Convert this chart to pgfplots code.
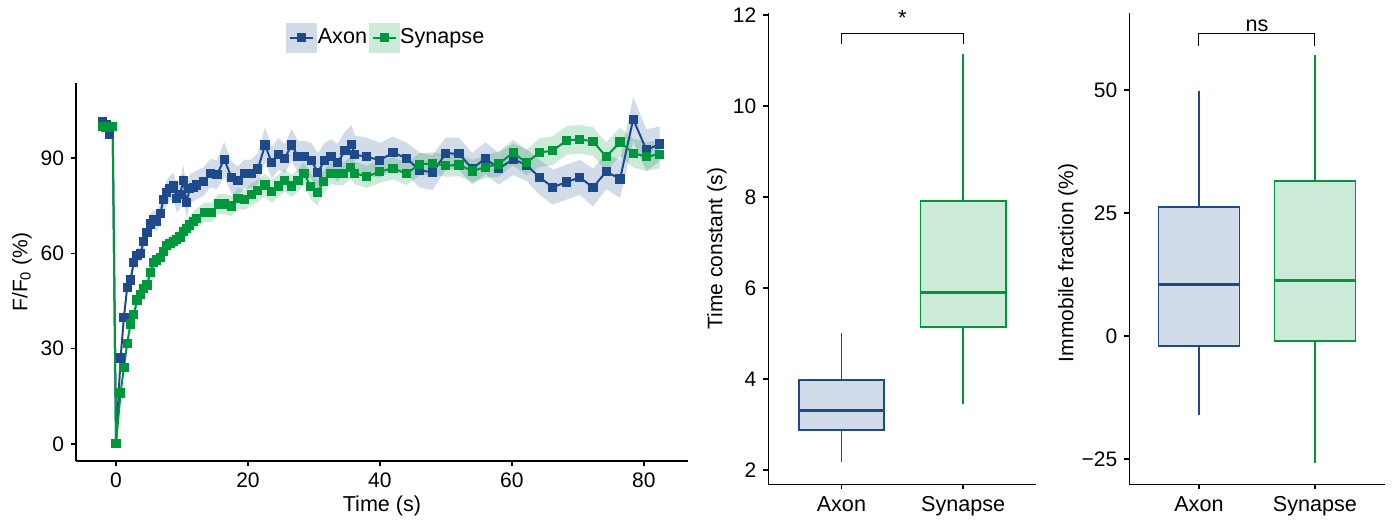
\documentclass[border=0pt]{standalone}
\usepackage{fontspec}
\setmainfont{Liberation Sans}
\usepackage{pgfplots}
\pgfplotsset{compat=1.18}
\usepgfplotslibrary{fillbetween,statistics}
\usepackage{pgfplotstable}

\definecolor{axon}{RGB}{30,74,140}
\definecolor{syn}{RGB}{0,150,60}
\definecolor{axonfill}{RGB}{210,219,232}
\definecolor{synfill}{RGB}{204,234,216}

% t = time (s), m = mean F/F0 (%), e = half-width of the shaded band
\pgfplotstableread{
t m e
-2 101.5 0.8
-1.5 100.5 0.8
-1 97.5 0.8
-0.5 100 0.5
0 0 0.5
0.7 27.0 1.5
1.2 39.8 2
1.7 49.3 2
2.2 51.6 2
2.7 57.1 2
3.2 59.4 2
3.7 59.8 2.2
4.2 63.8 2.5
4.7 66.5 2.5
5.2 69.2 3
5.7 70.7 3
6.2 70.0 3
6.7 72.4 3.2
7.2 77.0 3.5
7.7 79.0 4
8.2 80.5 4
8.7 81.3 4
9.2 77.3 4.5
9.7 78.5 4.5
10.2 82.9 5
10.7 76.0 5
11.2 80.5 4.5
11.7 80.8 4.5
12.2 81.5 4.5
13.3 82.6 4.5
14.3 85.2 4.5
15.3 84.7 4.5
16.4 89.6 5.5
17.5 83.9 5
18.5 82.9 4.5
19.5 85.0 4.5
20.5 85.0 4.5
21.5 86.5 5
22.6 94.1 5.5
23.6 88.5 5
24.6 91.2 5
25.6 89.9 4.5
26.6 94.1 5
27.6 90.4 5
28.6 90.4 5
29.6 89.2 5.5
30.6 85.5 6
31.6 89.2 5.5
32.6 90.4 5.5
33.6 88.5 6
34.7 92.3 6
35.7 94.3 6
36.2 91.0 6
38 90.4 6
40 89.3 5.5
42 91.7 5
44 89.9 5
46 86.2 5.5
48 85.4 5.5
50 91.5 5
52 91.3 5
54 86.6 5
56 89.9 5
58 86.6 5
60.2 89.6 5
62.2 87.8 5
64.2 83.9 5.5
66.2 80.8 5.5
68.3 82.4 5.5
70.3 83.9 5.5
72.3 80.7 6
74.3 85.7 5.5
76.4 83.4 6
78.4 102.2 7
80.4 92.5 6.5
82.4 94.4 5.5
}\axondata

\pgfplotstableread{
t m e
-2 100 0.5
-1.5 99.5 0.5
-1 100 0.5
-0.5 100 0.5
0 0 0.5
0.7 16.0 1.5
1.2 24.0 1.5
1.7 31.7 1.8
2.2 37.7 1.8
2.7 40.6 1.8
3.2 45.3 2
3.7 46.9 2
4.2 49.0 2
4.7 50.0 2
5.2 53.9 2
5.7 57.1 2
6.2 57.9 2
6.7 58.6 2.2
7.2 60.5 2.5
7.7 62.4 2.5
8.2 63.0 2.5
8.7 63.7 2.5
9.2 64.4 2.5
9.7 65.1 2.5
10.2 66.8 2.8
10.7 67.9 2.8
11.2 68.9 2.8
11.7 70.0 3
12.2 71.0 3
13.5 72.9 3
14.5 72.9 3
15.5 75.5 3.2
16.5 75.5 3.2
17.5 74.9 3.2
18.5 77.3 3.2
19.5 76.8 3.2
20.5 78.4 3.5
21.5 79.7 3.5
22.6 81.5 3.5
23.6 79.4 3.5
24.6 81.2 3.5
25.6 82.9 3.5
26.6 81.2 3.5
27.6 82.9 3.5
28.5 85.2 3.5
29.5 81.0 4
30.5 79.1 4
31.5 82.6 3.5
32.5 85.2 3.5
33.5 85.0 3.5
34.5 85.0 3.5
35.6 87.1 3.5
36.2 85.2 3.5
38 84.1 3.5
40 85.7 3.5
42 86.8 3.5
44 85.0 3.5
46 88.0 3.5
48 88.3 3.5
50 87.6 3.5
52 87.8 3.5
54 85.9 3.5
56 87.1 3.5
58 88.1 4
60.2 91.7 4
62.2 88.5 4
64.2 91.7 4.5
66.2 92.3 4.5
68.3 95.5 4.5
70.3 95.9 4.5
72.3 95.2 4.5
74.3 90.4 4.5
76.4 95.0 4.5
78.4 91.5 4.5
80.4 90.4 4.5
82.4 91.2 4.5
}\syndata

\pgfplotsset{
  mystyle/.style={
    scale only axis,
    axis lines=left,
    axis line style={line width=0.75pt,-},
    tick style={black,line width=0.75pt},
    tick align=outside,
    major tick length=2.5pt,
    font=\fontsize{10.8}{13}\selectfont,
    tick label style={font=\fontsize{10.5}{12.6}\selectfont},
    label style={font=\fontsize{10.5}{12.6}\selectfont},
    xlabel style={font=\fontsize{10.8}{13}\selectfont},
    /pgf/number format/assume math mode=true,
  },
  boxstyle/.style={
    boxplot/draw direction=y,
    boxplot/box extend=0.7,
    boxplot/whisker extend=0,
    boxplot/every median/.style={line width=1.5pt},
    xticklabel style={font=\fontsize{10.8}{13}\selectfont},
  }
}

\begin{document}
\begin{tikzpicture}

% ---------- left: recovery curves ----------
\begin{axis}[mystyle,
  at={(38pt,27pt)}, anchor=south west,
  width=306pt, height=189pt,
  xmin=-6.06, xmax=86.7, ymin=-5.4, ymax=113.6,
  xtick={0,20,40,60,80}, ytick={0,30,60,90},
  xlabel={Time (s)}, ylabel={F/F\textsubscript{0} (\%)},
  xlabel style={yshift=3pt},
  ylabel style={at={(axis description cs:-0.0882,0.5)}, anchor=center},
  legend columns=2,
  legend style={at={(0.333,1.120)}, anchor=west, draw=none, fill=none,
    font=\fontsize{10.8}{13}\selectfont,
    /tikz/every even column/.append style={column sep=0.5pt},
    nodes={inner sep=0.3pt}},
]
\addplot[name path=au, draw=none, forget plot] table[x=t,y expr=\thisrow{m}+\thisrow{e}] {\axondata};
\addplot[name path=al, draw=none, forget plot] table[x=t,y expr=\thisrow{m}-\thisrow{e}] {\axondata};
\addplot[fill=axon, fill opacity=0.2, draw=none, forget plot] fill between[of=au and al];
\addplot[name path=su, draw=none, forget plot] table[x=t,y expr=\thisrow{m}+\thisrow{e}] {\syndata};
\addplot[name path=sl, draw=none, forget plot] table[x=t,y expr=\thisrow{m}-\thisrow{e}] {\syndata};
\addplot[fill=syn, fill opacity=0.2, draw=none, forget plot] fill between[of=su and sl];

\addplot[axon, line width=1pt, mark=square*, mark size=1.8pt,
  legend image code/.code={
    \fill[axonfill] (0pt,-7pt) rectangle (14.5pt,7pt);
    \draw[axon, line width=1pt, mark=square*, mark size=1.8pt, mark repeat=2, mark phase=2] plot coordinates {(1.5pt,0pt) (7.25pt,0pt) (13pt,0pt)};
  }] table[x=t,y=m] {\axondata};
\addlegendentry{Axon}
\addplot[syn, line width=1pt, mark=square*, mark size=1.8pt,
  legend image code/.code={
    \fill[synfill] (0pt,-7pt) rectangle (14.5pt,7pt);
    \draw[syn, line width=1pt, mark=square*, mark size=1.8pt, mark repeat=2, mark phase=2] plot coordinates {(1.5pt,0pt) (7.25pt,0pt) (13pt,0pt)};
  }] table[x=t,y=m] {\syndata};
\addlegendentry{Synapse}
\end{axis}

% ---------- middle: time constant ----------
\begin{axis}[mystyle, clip=false, boxstyle,
  at={(384.15pt,15.35pt)}, anchor=south west,
  width=134pt, height=235.65pt,
  xmin=0.4, xmax=2.6, ymin=1.686, ymax=12.04,
  xtick={1,2}, xticklabels={Axon,Synapse},
  ytick={2,4,6,8,10,12},
  ylabel={Time constant (s)},
  ylabel style={at={(axis description cs:-0.1914,0.5)}, anchor=center},
]
\addplot[draw=axon, fill=axonfill, line width=0.75pt,
  boxplot prepared={draw position=1, lower whisker=2.18, lower quartile=2.88,
    median=3.30, upper quartile=3.98, upper whisker=5.01}] coordinates {};
\addplot[draw=syn, fill=synfill, line width=0.75pt,
  boxplot prepared={draw position=2, lower whisker=3.45, lower quartile=5.14,
    median=5.91, upper quartile=7.91, upper whisker=11.14}] coordinates {};
\draw[line width=0.5pt] (axis cs:1,11.35) -- (axis cs:1,11.6) -- (axis cs:2,11.6) -- (axis cs:2,11.35);
\node[anchor=base, font=\fontsize{11}{13}\selectfont] at (axis cs:1.5,11.76) {*};
\end{axis}

% ---------- right: immobile fraction ----------
\begin{axis}[mystyle, clip=false, boxstyle,
  at={(564.65pt,15.35pt)}, anchor=south west,
  width=127.65pt, height=235.5pt,
  xmin=0.4, xmax=2.6, ymin=-30.1, ymax=65.6,
  xtick={1,2}, xticklabels={Axon,Synapse},
  ytick={-25,0,25,50}, yticklabels={−25,0,25,50},
  ylabel={Immobile fraction (\%)},
  ylabel style={at={(axis description cs:-0.240,0.47)}, anchor=center},
]
\addplot[draw=axon, fill=axonfill, line width=0.75pt,
  boxplot prepared={draw position=1, lower whisker=-16.1, lower quartile=-2.0,
    median=10.4, upper quartile=26.2, upper whisker=49.9}] coordinates {};
\addplot[draw=syn, fill=synfill, line width=0.75pt,
  boxplot prepared={draw position=2, lower whisker=-25.8, lower quartile=-1.0,
    median=11.4, upper quartile=31.5, upper whisker=57.1}] coordinates {};
\draw[line width=0.5pt] (axis cs:1,59.0) -- (axis cs:1,61.5) -- (axis cs:2,61.5) -- (axis cs:2,59.0);
\node[anchor=base, font=\fontsize{10.8}{13}\selectfont] at (axis cs:1.5,62.0) {ns};
\end{axis}

\path (0,0) rectangle (696pt,257.5pt);
\end{tikzpicture}
\end{document}
